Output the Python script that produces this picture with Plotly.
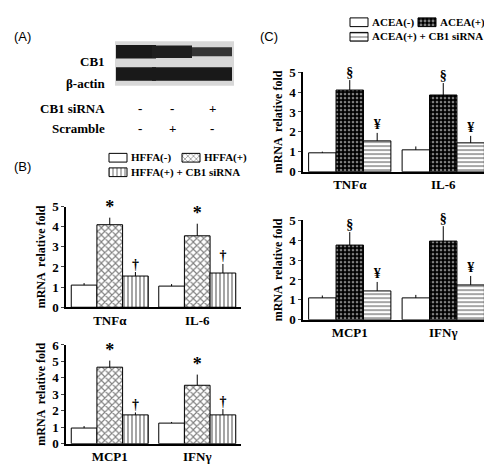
import plotly.graph_objects as go

W, H = 492, 464

genes_b_top = ["TNFα", "IL-6"]
genes_b_bot = ["MCP1", "IFNγ"]
genes_c_top = ["TNFα", "IL-6"]
genes_c_bot = ["MCP1", "IFNγ"]

groups_b = ["HFFA(-)", "HFFA(+)", "HFFA(+) + CB1 siRNA"]
groups_c = ["ACEA(-)", "ACEA(+)", "ACEA(+) + CB1 siRNA"]

# mean / sd per group, one list per panel
b_top_mean = [[1.1, 1.05], [4.1, 3.55], [1.55, 1.7]]
b_top_err = [[0.1, 0.1], [0.35, 0.6], [0.2, 0.45]]
b_bot_mean = [[0.95, 1.25], [4.65, 3.55], [1.75, 1.75]]
b_bot_err = [[0.12, 0.07], [0.4, 0.65], [0.15, 0.35]]
c_top_mean = [[0.95, 1.1], [4.1, 3.85], [1.55, 1.45]]
c_top_err = [[0.06, 0.17], [0.5, 0.6], [0.4, 0.35]]
c_bot_mean = [[1.1, 1.1], [3.75, 3.95], [1.45, 1.75]]
c_bot_err = [[0.12, 0.15], [0.65, 0.75], [0.45, 0.45]]

b_marks = ["*", "†"]
c_marks = ["§", "¥"]

# western blot band intensity (0..1) per lane
lanes_cb1 = [1.0, 0.9, 0.55]
lanes_actin = [1.0, 1.0, 1.0]
cb1_sirna = ["-", "-", "+"]
scramble = ["-", "+", "-"]

SERIF = "Liberation Serif"
fig = go.Figure()


def px(x):
    return x / W


def py(y):
    return 1 - y / H


# panel axes: name -> (x0, x1, ytop, ybottom pixels, ymax)
panels = {
    "1": (58, 233, 198, 302, 5),
    "2": (58, 233, 341, 443, 6),
    "3": (295, 482, 59, 162, 5),
    "4": (295, 482, 212, 315, 5),
}

line = dict(color="black", width=1)
b_styles = [
    dict(color="white", line=line,
         pattern=dict(shape="", fgcolor="black", bgcolor="white", size=4, solidity=0.4)),
    dict(color="white", line=line,
         pattern=dict(shape="x", fgcolor="black", bgcolor="white", size=5, solidity=0.4)),
    dict(color="white", line=line,
         pattern=dict(shape="|", fgcolor="black", bgcolor="white", size=4, solidity=0.35)),
]
c_styles = [
    dict(color="white", line=line,
         pattern=dict(shape="", fgcolor="black", bgcolor="white", size=4, solidity=0.4)),
    dict(color="black", line=line,
         pattern=dict(shape=".", fgcolor="white", bgcolor="black", size=4, solidity=0.35)),
    dict(color="white", line=line,
         pattern=dict(shape="-", fgcolor="black", bgcolor="white", size=4, solidity=0.35)),
]

datasets = [
    ("1", genes_b_top, b_top_mean, b_top_err, b_styles, b_marks),
    ("2", genes_b_bot, b_bot_mean, b_bot_err, b_styles, b_marks),
    ("3", genes_c_top, c_top_mean, c_top_err, c_styles, c_marks),
    ("4", genes_c_bot, c_bot_mean, c_bot_err, c_styles, c_marks),
]

for key, genes, means, errs, styles, marks in datasets:
    xa = "x" if key == "1" else "x" + key
    ya = "y" if key == "1" else "y" + key
    for g in range(3):
        fig.add_trace(go.Bar(
            x=genes, y=means[g], marker=styles[g],
            error_y=dict(type="data", symmetric=False, array=errs[g],
                         arrayminus=[0] * len(errs[g]), color="black", thickness=1, width=0),
            xaxis=xa, yaxis=ya, showlegend=False, offsetgroup=str(g),
        ))
    # significance marks above bars of groups 2 and 3
    for g, m in [(1, marks[0]), (2, marks[1])]:
        fig.add_trace(go.Scatter(
            x=genes, y=[means[g][i] + errs[g][i] for i in range(len(genes))],
            mode="text", text=["<b>" + m + "</b>"] * len(genes), textposition="top center",
            textfont=dict(family=SERIF, size=18 if m == "*" else 14, color="black"),
            xaxis=xa, yaxis=ya, showlegend=False, offsetgroup=str(g), hoverinfo="skip",
            cliponaxis=False,
        ))

# hand-made legends: one bar trace per legend on its own pixel-scaled axis
legends = {
    "5": (groups_b, b_styles, 95, 245, 140, 170, [(110, 1), (183, 1), (110, 0)]),
    "6": (groups_c, c_styles, 335, 492, 0, 30, [(351, 1), (419, 1), (351, 0)]),
}
for key, (names, styles, x0, x1, y0, y1, spots) in legends.items():
    fig.add_trace(go.Bar(
        x=[s[0] for s in spots], y=[9, 9, 9], base=[18 if s[1] else 3 for s in spots],
        width=18, xaxis="x" + key, yaxis="y" + key, showlegend=False, hoverinfo="skip",
        marker=dict(color=[s["color"] for s in styles], line=line,
                    pattern=dict(shape=[s["pattern"]["shape"] for s in styles],
                                 fgcolor=[s["pattern"]["fgcolor"] for s in styles],
                                 bgcolor=[s["pattern"]["bgcolor"] for s in styles],
                                 size=4, solidity=0.4)),
    ))
    for (sx, row), nm in zip(spots, names):
        fig.add_annotation(text="<b>" + nm + "</b>", x=sx + 11, y=22.5 if row else 7.5,
                           xref="x" + key, yref="y" + key, xanchor="left", showarrow=False,
                           font=dict(family=SERIF, size=11))

layout = dict(
    width=W, height=H, margin=dict(l=0, r=0, t=0, b=0),
    plot_bgcolor="white", paper_bgcolor="white",
    barmode="group", bargap=0.12, bargroupgap=0,
    scattermode="group",
    font=dict(family=SERIF, size=12, color="black"),
)
for key, (names, styles, x0, x1, y0, y1, spots) in legends.items():
    layout["xaxis" + key] = dict(domain=[px(x0), px(x1)], range=[x0, x1], visible=False,
                                 anchor="y" + key)
    layout["yaxis" + key] = dict(domain=[py(y1), py(y0)], range=[0, 30], visible=False,
                                 anchor="x" + key)
for key, (x0, x1, yt, yb, ymax) in panels.items():
    xn = "xaxis" if key == "1" else "xaxis" + key
    yn = "yaxis" if key == "1" else "yaxis" + key
    layout[xn] = dict(domain=[px(x0), px(x1)], anchor="y" if key == "1" else "y" + key,
                      showline=True, linecolor="black", linewidth=1.5, ticks="",
                      tickprefix="<b>", ticksuffix="</b>",
                      tickfont=dict(family=SERIF, size=13))
    layout[yn] = dict(domain=[py(yb), py(yt)], anchor="x" if key == "1" else "x" + key,
                      range=[0, ymax], dtick=1, showline=True, linecolor="black",
                      linewidth=1.5, ticks="outside", ticklen=3, showgrid=False,
                      tickprefix="<b>", ticksuffix="</b>",
                      tickfont=dict(family=SERIF, size=13),
                      title=dict(text="<b>mRNA  relative fold</b>", standoff=4,
                                 font=dict(family=SERIF, size=12)))
fig.update_layout(**layout)

# (A) western blot
shapes = [dict(type="rect", xref="paper", yref="paper", x0=px(107), x1=px(226),
               y0=py(73), y1=py(27), fillcolor="#d8d8d8", line=dict(width=0), layer="below")]
lane_x = [128, 164, 204]
for i, cx in enumerate(lane_x):
    for yc, inten in [(38, lanes_cb1[i]), (61, lanes_actin[i])]:
        hgt = 10 * inten + 4
        v = int(25 + (1 - inten) * 60)
        shapes.append(dict(type="rect", xref="paper", yref="paper",
                           x0=px(cx - 20), x1=px(cx + 20), y0=py(yc + hgt / 2), y1=py(yc - hgt / 2),
                           fillcolor=f"rgb({v},{v},{v})", line=dict(width=0)))
fig.update_layout(shapes=shapes)

for txt, xx, yy in [("(A)", 4, 12), ("(B)", 4, 157), ("(C)", 250, 12)]:
    fig.add_annotation(text=txt, x=px(xx), y=py(yy), xref="paper", yref="paper",
                       xanchor="left", showarrow=False, font=dict(family="Liberation Sans", size=13))
for txt, yy in [("<b>CB1</b>", 38), ("<b>β-actin</b>", 61), ("<b>CB1 siRNA</b>", 87), ("<b>Scramble</b>", 107)]:
    fig.add_annotation(text=txt, x=px(99), y=py(yy), xref="paper", yref="paper", xanchor="right",
                       showarrow=False, font=dict(family=SERIF, size=13))
for i, cx in enumerate(lane_x):
    for sym, yy in [(cb1_sirna[i], 87), (scramble[i], 107)]:
        fig.add_annotation(text="<b>" + sym + "</b>", x=px(cx), y=py(yy), xref="paper", yref="paper",
                           showarrow=False, font=dict(family=SERIF, size=13))

fig.write_html("out.html")
